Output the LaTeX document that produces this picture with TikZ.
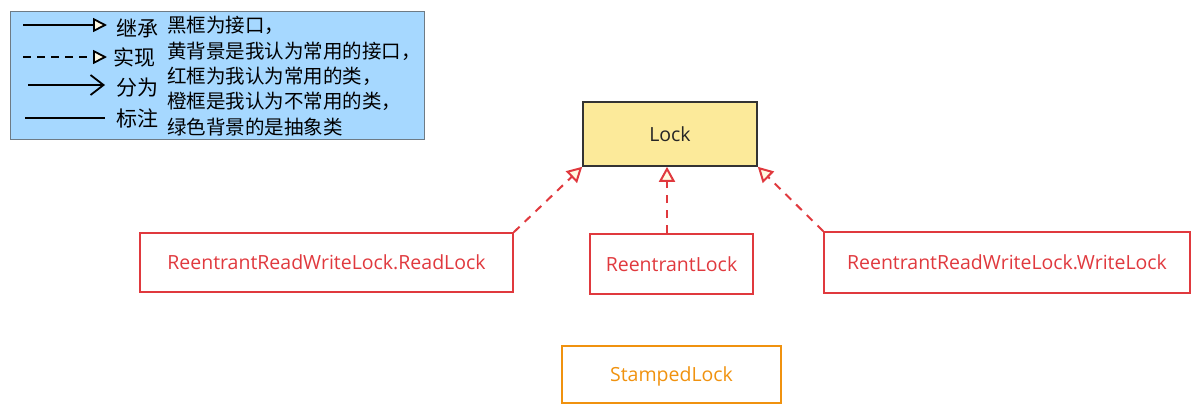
\documentclass[tikz,border=0pt]{standalone}
\usepackage{fontspec}
\setmainfont{Open Sans}
\newfontfamily\cjk{Noto Sans CJK SC}
\usetikzlibrary{arrows.meta}
\definecolor{legbg}{HTML}{A6D8FF}
\definecolor{legbd}{HTML}{6E7B85}
\definecolor{lockbg}{HTML}{FCEA9A}
\definecolor{redc}{HTML}{E0393E}
\definecolor{orangec}{HTML}{F0920F}
\definecolor{tipfill}{HTML}{FFF9E0}
\tikzset{
  boxtext/.style={font=\fontsize{19.5}{22}\selectfont, text height=14.5pt, text depth=0pt},
  ifacebox/.style={boxtext, draw=black!80, line width=1.6pt, fill=lockbg, minimum width=174pt, minimum height=64pt, text=black!85},
  redbox/.style={boxtext, draw=redc, line width=1.6pt, text=redc},
  orbox/.style={boxtext, draw=orangec, line width=1.6pt, text=orangec},
  implarrow/.style={draw=redc, line width=2pt, dash pattern=on 8pt off 7pt, -{Triangle[open, fill=tipfill, length=15pt, width=16pt, line width=2pt]}},
  legtext/.style={font=\cjk\fontsize{19.5}{22}\selectfont, anchor=west, inner sep=0pt},
  leglab/.style={font=\cjk\fontsize{21}{22}\selectfont, anchor=west, inner sep=0pt},
  legline/.style={line width=1.8pt, black}
}
\begin{document}
\begin{tikzpicture}[x=1pt,y=-1pt]
\useasboundingbox (0,0) rectangle (1200,413);
% legend
\node[draw=legbd, line width=1.2pt, fill=legbg, minimum width=414pt, minimum height=128pt, anchor=north west, inner sep=0pt] (legend) at (10,11) {};
\coordinate (l1a) at (23,25); \coordinate (l1b) at (107,25);
\coordinate (l2a) at (23,57); \coordinate (l2b) at (107,57);
\coordinate (l3a) at (28,85); \coordinate (l3b) at (105,85);
\coordinate (l4a) at (25,118); \coordinate (l4b) at (105,118);
\draw[legline, -{Triangle[open, fill=tipfill, length=14pt, width=14pt, line width=1.8pt]}] (l1a) -- (l1b);
\draw[legline, dash pattern=on 8pt off 6pt, -{Triangle[open, fill=tipfill, length=14pt, width=14pt, line width=1.8pt]}] (l2a) -- (l2b);
\draw[legline, -{Straight Barb[length=13pt, width=20pt, line width=1.8pt]}] (l3a) -- (l3b);
\draw[legline] (l4a) -- (l4b);
\node[leglab] (t1) at (116,28) {继承};
\node[leglab] (t2) at (113,57) {实现};
\node[leglab] (t3) at (116,88) {分为};
\node[leglab] (t4) at (116,118) {标注};
\node[legtext] (d1) at (167,25) {黑框为接口，};
\node[legtext] (d2) at (167,51) {黄背景是我认为常用的接口，};
\node[legtext] (d3) at (167,76) {红框为我认为常用的类，};
\node[legtext] (d4) at (167,101) {橙框是我认为不常用的类，};
\node[legtext] (d5) at (167,127) {绿色背景的是抽象类};
% nodes
\node[ifacebox] (lock) at (670,134) {Lock};
\node[redbox, minimum width=373pt, minimum height=59pt] (rl) at (326.5,262.5) {ReentrantReadWriteLock.ReadLock};
\node[redbox, minimum width=163pt, minimum height=60pt] (re) at (671.5,264) {ReentrantLock};
\node[redbox, minimum width=366pt, minimum height=61pt] (wl) at (1007,262.5) {ReentrantReadWriteLock.WriteLock};
\node[orbox, minimum width=219pt, minimum height=57pt] (sl) at (671.5,374.5) {StampedLock};
% arrows
\draw[implarrow] (rl.north east) -- (lock.south west);
\draw[implarrow] (re.north -| 667,0) -- (lock.south -| 667,0);
\draw[implarrow] (wl.north west) -- (lock.south east);
\end{tikzpicture}
\end{document}
